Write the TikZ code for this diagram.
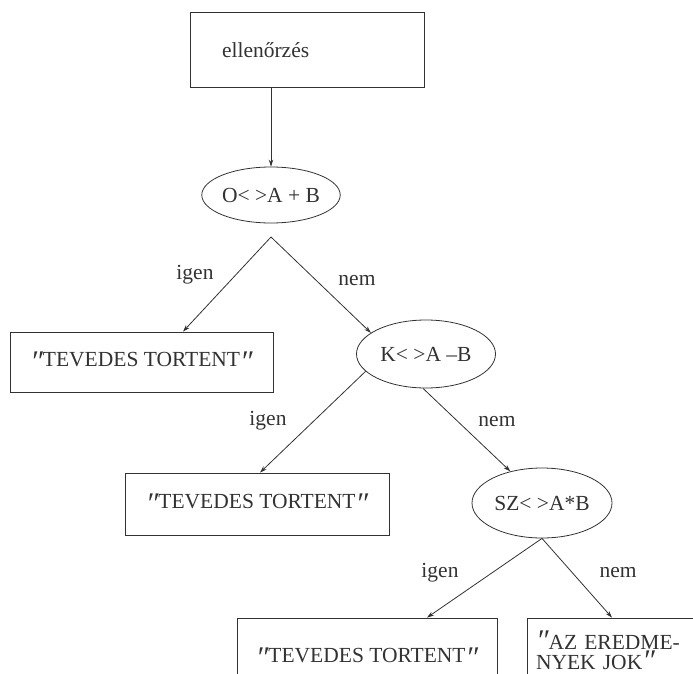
\documentclass[tikz,border=0pt]{standalone}
\usepackage{fontspec}
\setmainfont{Liberation Serif}
\usetikzlibrary{shapes.geometric,arrows.meta}
\definecolor{ink}{RGB}{50,50,50}
% typewriter-style slanted double quote mark
\newcommand\qm{\raisebox{-5pt}{\fontsize{30}{30}\selectfont\itshape ″}}
\begin{document}
\begin{tikzpicture}[x=1pt,y=-1pt,
  every node/.style={text=ink, font=\fontsize{21.5}{20}\selectfont},
  box/.style={draw=ink, line width=0.8pt, rectangle, inner sep=0pt},
  cond/.style={draw=ink, line width=0.8pt, ellipse, inner sep=0pt},
  flow/.style={draw=ink, line width=0.8pt, -{Stealth[length=7pt,width=4.5pt]}},
  lbl/.style={inner sep=0pt}]
\path[use as bounding box] (0,0) rectangle (693,674);
\clip (0,0) rectangle (693,674);

% process box and decisions
\node[box, minimum width=234pt, minimum height=75pt, text width=234pt, align=left] (top) at (307,50) {\hspace*{32pt}ellenőrzés};
\node[cond, minimum width=138pt, minimum height=56pt] (c1) at (271,195) {O< >A + B};
\node[cond, minimum width=139pt, minimum height=68pt] (c2) at (426,354) {K< >A –B};
\node[cond, minimum width=140pt, minimum height=70pt] (c3) at (542,503) {SZ< >A*B};

% outputs
\node[box, minimum width=263pt, minimum height=60pt] (b1) at (141.5,362) {\qm TEVEDES TORTENT\qm};
\node[box, minimum width=264pt, minimum height=62pt] (b2) at (257,504) {\qm TEVEDES TORTENT\qm};
\node[box, minimum width=260pt, minimum height=80pt] (b3) at (367,658) {\qm TEVEDES TORTENT\qm};
\node[box, minimum width=170pt, minimum height=66pt, text width=152pt, align=left] (b4) at (612,651)
  {\raisebox{4pt}{\qm}AZ EREDME-\\NYEK JOK\raisebox{4pt}{\qm}};

% branch point under the first decision
\coordinate (a1) at (271,237);

% connectors
\draw[flow] (top.south -| c1) -- (c1.north);
\draw[flow] (a1) -- ([xshift=41.5pt]b1.north);
\draw[flow] (a1) -- (c2.159);
\draw[flow] (c2.196) -- ([xshift=3pt]b2.north);
\draw[flow] (c2.265) -- (c3.135);
\draw[flow] (c3.south) -- ([xshift=60pt]b3.north);
\draw[flow] (c3.south) -- (b4.north);

% branch labels
\node[lbl] (l1) at (195,275) {igen};
\node[lbl] (l2) at (357,281) {nem};
\node[lbl] (l3) at (268,421) {igen};
\node[lbl] (l4) at (497,422) {nem};
\node[lbl] (l5) at (440,573) {igen};
\node[lbl] (l6) at (618,573) {nem};
\end{tikzpicture}
\end{document}
